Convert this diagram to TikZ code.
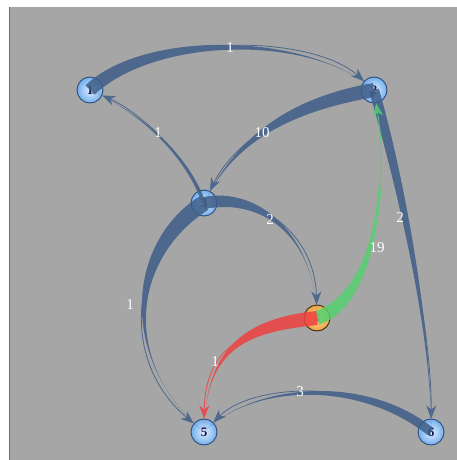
\documentclass[tikz,border=0pt]{standalone}
\usepackage{fontspec}
\setmainfont{Liberation Serif}
\usetikzlibrary{calc,arrows.meta}
\definecolor{bg}{HTML}{A6A6A6}
\definecolor{frameline}{HTML}{6E6E6E}
\definecolor{edgeblue}{HTML}{3E5E88}
\definecolor{edgegreen}{HTML}{55D070}
\definecolor{edgered}{HTML}{EE4040}
\definecolor{nodeline}{HTML}{2E4C74}
\definecolor{nodein}{HTML}{E2F1FF}
\definecolor{nodeout}{HTML}{72AEEE}
\definecolor{nodetext}{HTML}{151550}
\definecolor{oin}{HTML}{FFE0A0}
\definecolor{oout}{HTML}{F0A040}
\definecolor{onodeline}{HTML}{3A2A10}
\tikzset{
  vnode/.style={circle, minimum size=26pt, inner sep=0pt, draw=nodeline, line width=0.9pt,
    inner color=nodein, outer color=nodeout, text=nodetext, font=\bfseries\fontsize{13}{13}\selectfont},
  onode/.style={vnode, draw=onodeline, inner color=oin, outer color=oout, text=edgered},
  elabel/.style={text=white, inner sep=1pt, font=\fontsize{15}{15}\selectfont},
  earrow/.style={line width=0.8pt, -{Stealth[length=13pt,width=10pt,inset=4pt]}}
}
\newcommand\tapedge[6]{%
  \begin{scope}[transparency group, opacity=0.85]
  \fill[#6] ($(#1)!#5!90:(#2)$) .. controls ($(#2)!#5!-90:(#1)$) and (#3) .. (#4.center)
     .. controls (#3) and ($(#2)!#5!90:(#1)$) .. ($(#1)!#5!-90:(#2)$) -- cycle;
  \draw[#6, earrow] (#1.center) .. controls (#2) and (#3) .. (#4);
  \end{scope}
}
\begin{document}
\begin{tikzpicture}[x=1pt,y=-1pt]
\useasboundingbox (0,0) rectangle (457,460);
\fill[white] (0,0) rectangle (457,460);
\fill[bg] (9,7) rectangle (457,460);
\draw[frameline, line width=1.2pt] (9.6,7) -- (9.6,460);

% nodes
\node[vnode] (n1) at (90,90) {1};
\node[vnode] (n2) at (374,90) {2};
\node[vnode] (n3) at (204,203) {3};
\node[onode] (n4) at (317,318) {4};
\node[vnode] (n5) at (204,432) {5};
\node[vnode] (n6) at (431,432) {6};

% control points
\coordinate (a1) at (150,33);  \coordinate (a2) at (310,33);
\coordinate (b1) at (185,150); \coordinate (b2) at (135,110);
\coordinate (c1) at (276,107); \coordinate (c2) at (230,150);
\coordinate (d1) at (400,180); \coordinate (d2) at (432,330);
\coordinate (e1) at (260,192); \coordinate (e2) at (315,235);
\coordinate (f1) at (130,250); \coordinate (f2) at (118,360);
\coordinate (g1) at (375,298); \coordinate (g2) at (390,190);
\coordinate (h1) at (250,325); \coordinate (h2) at (205,345);
\coordinate (k1) at (360,375); \coordinate (k2) at (250,385);

% edges
\tapedge{n1}{a1}{a2}{n2}{6.5pt}{edgeblue}
\tapedge{n3}{b1}{b2}{n1}{1.8pt}{edgeblue}
\tapedge{n2}{c1}{c2}{n3}{7pt}{edgeblue}
\tapedge{n2}{d1}{d2}{n6}{5pt}{edgeblue}
\tapedge{n3}{e1}{e2}{n4}{6pt}{edgeblue}
\tapedge{n3}{f1}{f2}{n5}{8pt}{edgeblue}
\tapedge{n4}{g1}{g2}{n2}{7pt}{edgegreen}
\tapedge{n4}{h1}{h2}{n5}{7pt}{edgered}
\tapedge{n6}{k1}{k2}{n5}{4.5pt}{edgeblue}

% labels
\node[elabel] (l12) at (230,48) {1};
\node[elabel] (l31) at (158,133) {1};
\node[elabel] (l23) at (262,133) {10};
\node[elabel] (l26) at (400,218) {2};
\node[elabel] (l34) at (270,220) {2};
\node[elabel] (l35) at (130,305) {1};
\node[elabel] (l42) at (377,248) {19};
\node[elabel] (l45) at (215,362) {1};
\node[elabel] (l65) at (300,392) {3};
\end{tikzpicture}
\end{document}
